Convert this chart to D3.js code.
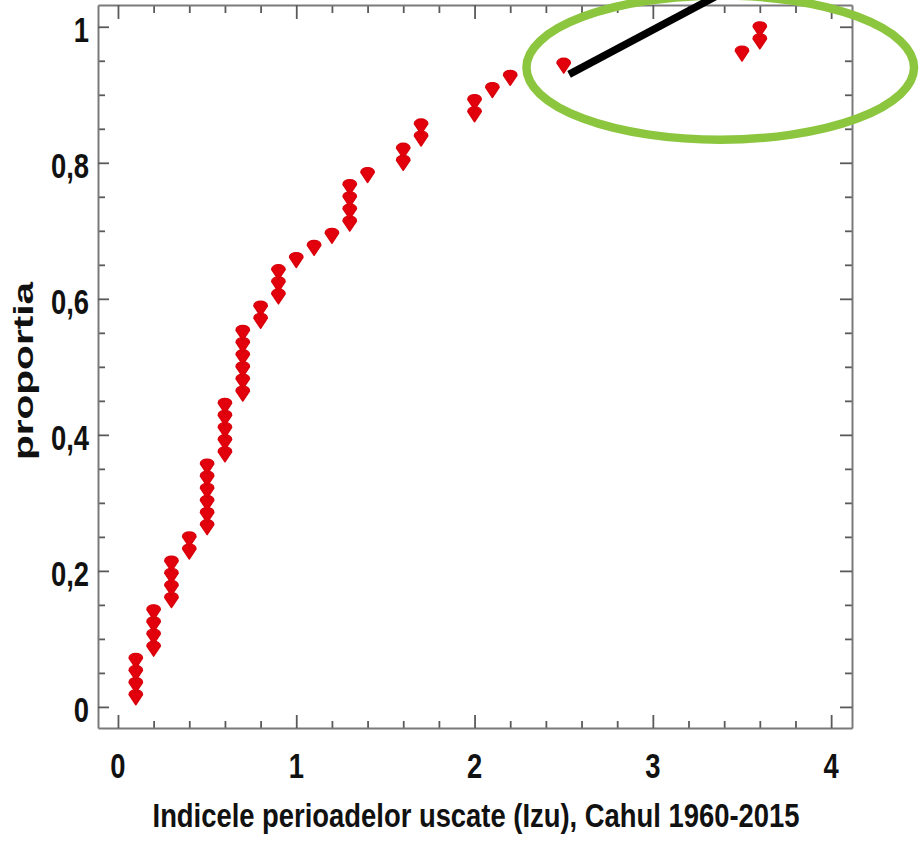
<!DOCTYPE html>
<html>
<head>
<meta charset="utf-8">
<script src="https://cdn.jsdelivr.net/npm/d3@7"></script>
<style>
  html, body { margin: 0; padding: 0; background: #fff; }
  svg { display: block; }
</style>
</head>
<body>
<svg id="chart" width="922" height="851"></svg>
<script>
// Dry-period index (Izu), Cahul, one value per year 1960-2015, sorted ascending
const izu = [
  0.1, 0.1, 0.1, 0.1,
  0.2, 0.2, 0.2, 0.2,
  0.3, 0.3, 0.3, 0.3,
  0.4, 0.4,
  0.5, 0.5, 0.5, 0.5, 0.5, 0.5,
  0.6, 0.6, 0.6, 0.6, 0.6,
  0.7, 0.7, 0.7, 0.7, 0.7, 0.7,
  0.8, 0.8,
  0.9, 0.9, 0.9,
  1.0,
  1.1,
  1.2,
  1.3, 1.3, 1.3, 1.3,
  1.4,
  1.6, 1.6,
  1.7, 1.7,
  2.0, 2.0,
  2.1,
  2.2,
  2.5,
  3.5,
  3.6, 3.6
];

const xMajorTicks = [0, 1, 2, 3, 4];
const yMajorTicks = [0, 0.2, 0.4, 0.6, 0.8, 1];
const xTitle = "Indicele perioadelor uscate (Izu), Cahul 1960-2015";
const yTitle = "proportia";

// Highlight of the upper tail: ellipse (centre, radii) and pointer line, in data units
const highlightCenter = [3.378, 0.94];
const highlightRadii = [1.087, 0.106];
const pointerLine = [[2.53, 0.93], [3.37, 1.047]];

const svg = d3.select("#chart");
const FONT = "'Liberation Sans', Arial, Helvetica, sans-serif";
const STRETCH = 1.27;   // text is drawn tall and narrow

const frame = { left: 98, right: 852, top: 5, bottom: 728 };
const x = d3.scaleLinear().domain([-0.112, 4.117]).range([frame.left, frame.right]);
const y = d3.scaleLinear().domain([-0.031, 1.032]).range([frame.bottom, frame.top]);

const xMinorTicks = d3.range(0, 21).filter(i => i % 5 !== 0).map(i => i * 0.2);
const yMinorTicks = d3.range(0, 21).filter(i => i % 4 !== 0).map(i => i * 0.05);

const fmt = d3.formatLocale({ decimal: ",", thousands: ".", grouping: [3], currency: ["", ""] }).format("~g");

const lineColor = "#7a7a7a";
const tickColor = "#5a5a5a";

function styleAxis(g) {
  g.select(".domain").attr("stroke", lineColor).attr("stroke-width", 2);
  g.selectAll(".tick line").attr("stroke", tickColor).attr("stroke-width", 1.8);
}

// Minor ticks (all four sides, pointing inward)
svg.append("g").attr("transform", `translate(0,${frame.bottom})`)
  .call(d3.axisBottom(x).tickValues(xMinorTicks).tickSize(-7).tickFormat(""))
  .call(g => { g.select(".domain").remove(); styleAxis(g); });
svg.append("g").attr("transform", `translate(0,${frame.top})`)
  .call(d3.axisTop(x).tickValues(xMinorTicks).tickSize(-8).tickFormat(""))
  .call(g => { g.select(".domain").remove(); styleAxis(g); });
svg.append("g").attr("transform", `translate(${frame.left},0)`)
  .call(d3.axisLeft(y).tickValues(yMinorTicks).tickSize(-7).tickFormat(""))
  .call(g => { g.select(".domain").remove(); styleAxis(g); });
svg.append("g").attr("transform", `translate(${frame.right},0)`)
  .call(d3.axisRight(y).tickValues(yMinorTicks).tickSize(-7).tickFormat(""))
  .call(g => { g.select(".domain").remove(); styleAxis(g); });

// Major ticks and the frame (labels are drawn separately below)
svg.append("g").attr("transform", `translate(0,${frame.bottom})`)
  .call(d3.axisBottom(x).tickValues(xMajorTicks).tickSize(-13).tickSizeOuter(0).tickFormat(""))
  .call(styleAxis);
svg.append("g").attr("transform", `translate(0,${frame.top})`)
  .call(d3.axisTop(x).tickValues(xMajorTicks).tickSize(-14).tickSizeOuter(0).tickFormat(""))
  .call(styleAxis);
svg.append("g").attr("transform", `translate(${frame.left},0)`)
  .call(d3.axisLeft(y).tickValues(yMajorTicks).tickSize(-11).tickSizeOuter(0).tickFormat(""))
  .call(styleAxis);
svg.append("g").attr("transform", `translate(${frame.right},0)`)
  .call(d3.axisRight(y).tickValues(yMajorTicks).tickSize(-12).tickSizeOuter(0).tickFormat(""))
  .call(styleAxis);

// Tick labels: tall, narrow bold digits
const labelFont = 27.4;
svg.append("g")
  .selectAll("text")
  .data(xMajorTicks)
  .join("text")
  .attr("transform", d => `translate(${x(d)},778) scale(1,${STRETCH})`)
  .attr("text-anchor", "middle")
  .attr("font-family", FONT).attr("font-size", labelFont).attr("font-weight", "bold")
  .attr("fill", "#111")
  .text(fmt);

svg.append("g")
  .selectAll("text")
  .data(yMajorTicks)
  .join("text")
  .attr("transform", d => `translate(89,${y(d) + 15}) scale(1,${STRETCH})`)
  .attr("text-anchor", "end")
  .attr("font-family", FONT).attr("font-size", labelFont).attr("font-weight", "bold")
  .attr("fill", "#111")
  .text(fmt);

// Axis titles
svg.append("text")
  .attr("transform", `translate(476,827) scale(1,${STRETCH - 0.04})`)
  .attr("text-anchor", "middle")
  .attr("font-family", FONT).attr("font-size", 27.4).attr("font-weight", "bold")
  .attr("fill", "#111")
  .text(xTitle);

svg.append("text")
  .attr("transform", "translate(33,371) rotate(-90) scale(1.45,1)")
  .attr("text-anchor", "middle")
  .attr("font-family", FONT).attr("font-size", 28).attr("font-weight", "bold")
  .attr("fill", "#111")
  .text(yTitle);

// Marker: rounded top, pointed bottom (a downward "shield"), centred on the value
function shield(w, top, tip) {
  const p = d3.path();
  const r = w / 2;
  p.moveTo(-r, top + r * 0.8);
  p.bezierCurveTo(-r, top - r * 0.15, r, top - r * 0.15, r, top + r * 0.8);
  p.lineTo(0, tip);
  p.closePath();
  return p.toString();
}
const markerPath = shield(13.5, -5.5, 10);

// Empirical cumulative proportions
const n = izu.length;
svg.append("g")
  .selectAll("path")
  .data(izu)
  .join("path")
  .attr("d", markerPath)
  .attr("transform", (d, i) => `translate(${x(d)},${y((i + 1) / n)})`)
  .attr("fill", "#e2000c")
  .attr("stroke", "#d8000b")
  .attr("stroke-width", 1.4)
  .attr("stroke-linejoin", "round");

// Highlight of the upper tail
svg.append("ellipse")
  .attr("cx", x(highlightCenter[0]))
  .attr("cy", y(highlightCenter[1]))
  .attr("rx", x(highlightCenter[0] + highlightRadii[0]) - x(highlightCenter[0]))
  .attr("ry", y(highlightCenter[1]) - y(highlightCenter[1] + highlightRadii[1]))
  .attr("fill", "none")
  .attr("stroke", "#8cc63f")
  .attr("stroke-width", 8.5);

svg.append("line")
  .attr("x1", x(pointerLine[0][0])).attr("y1", y(pointerLine[0][1]))
  .attr("x2", x(pointerLine[1][0])).attr("y2", y(pointerLine[1][1]))
  .attr("stroke", "#000")
  .attr("stroke-width", 7.5);
</script>
</body>
</html>
